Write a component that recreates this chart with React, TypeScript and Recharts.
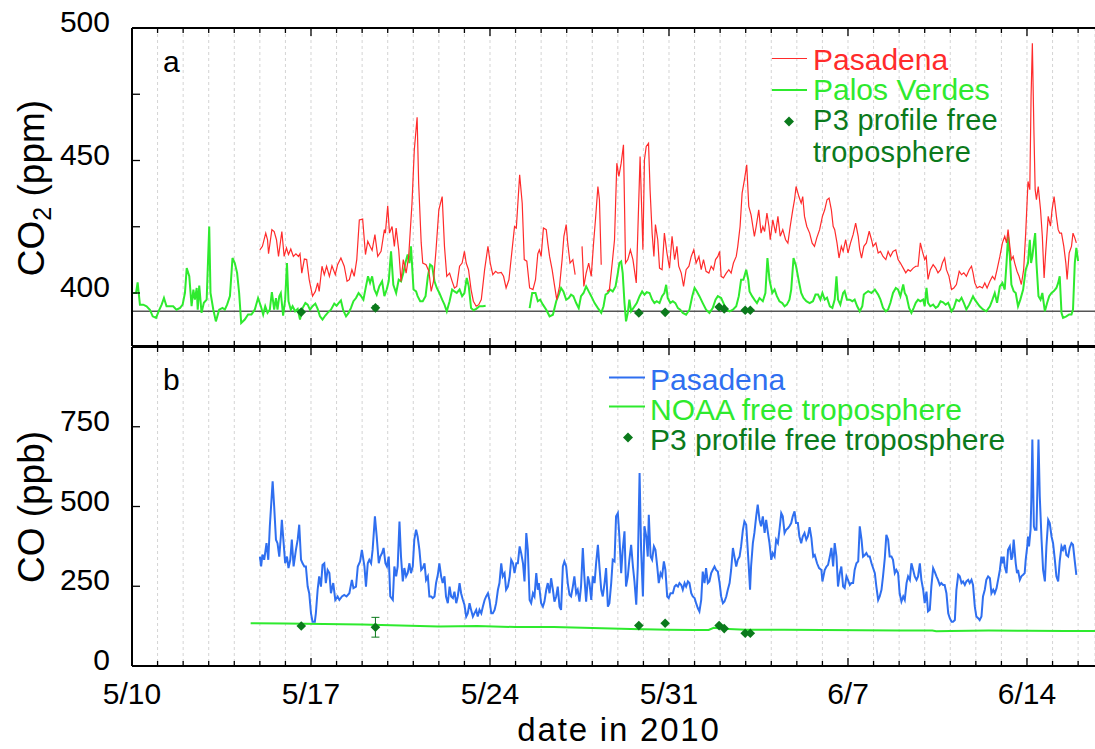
import {
  CartesianGrid,
  ComposedChart,
  ErrorBar,
  Line,
  ReferenceLine,
  Scatter,
  XAxis,
  YAxis,
} from "recharts";

const FONT = "'Liberation Sans', Arial, Helvetica, sans-serif";
const RED = "#ff2b2b";
const GREEN = "#2eea2e";
const BLUE = "#2f6ff0";
const DARK = "#0b7a1c";

// x = days since 5/10 00:00 (2010)
const DAY_MAX = 37.66;
const dayTicks = [
  0, 1, 2, 3, 4, 5, 6, 7, 8, 9, 10, 11, 12, 13, 14, 15, 16, 17, 18, 19, 20, 21, 22, 23, 24, 25, 26, 27, 28,
  29, 30, 31, 32, 33, 34, 35, 36, 37,
];
const majorDays = [0, 7, 14, 21, 28, 35];
const dateLabels = ["5/10", "5/17", "5/24", "5/31", "6/7", "6/14"];

const co2Ticks = [400, 425, 450, 475, 500];
const co2Labels = [400, 450, 500];
const coTicks = [0, 250, 500, 750, 1000];
const coLabels = [0, 250, 500, 750];

// panel a: CO2 (ppm)
const co2Pasadena: [number, number | null][] = [
  [5.0, 416.3], [5.1, 417.6], [5.23, 422.6], [5.3, 420.1], [5.34, 414.8], [5.47, 423.9], [5.56, 423.2],
  [5.65, 420.1], [5.73, 413.8], [5.86, 423.2], [5.95, 413.8], [6.04, 417], [6.12, 414.5], [6.21, 416.6],
  [6.31, 413.8], [6.41, 414.8], [6.51, 413.8], [6.57, 414.8], [6.64, 407.5], [6.74, 412.8], [6.83, 412.6],
  [6.93, 405], [7.06, 398.8], [7.17, 400.6], [7.26, 403.8], [7.32, 400.6], [7.43, 410.1], [7.52, 406.9],
  [7.61, 410.1], [7.72, 406.3], [7.82, 410.3], [7.95, 406.9], [8.04, 410.7], [8.17, 413.2], [8.3, 410.1],
  [8.41, 404.4], [8.5, 405], [8.6, 408.8], [8.69, 406.3], [8.79, 412.6], [8.89, 427.6], [9.02, 427.9],
  [9.13, 414.5], [9.22, 419.5], [9.31, 417.6], [9.39, 416.1], [9.5, 422], [9.61, 413.8], [9.74, 415.7],
  [9.87, 423.9], [9.91, 422.6], [10.0, 432.9], [10.07, 422.6], [10.17, 425.1], [10.26, 417.6], [10.33, 424.5],
  [10.43, 416.3], [10.52, 404.4], [10.61, 412.6], [10.72, 407.5], [10.82, 413.8], [10.95, 433.9], [11.04, 454],
  [11.15, 466.3], [11.21, 441.5], [11.31, 418.9], [11.37, 411.3], [11.5, 410.7], [11.61, 408.2], [11.7, 400.6],
  [11.79, 404.4], [11.89, 416.3], [12.0, 431.4], [12.13, 436.4], [12.22, 417.6], [12.31, 406.3], [12.42, 407.5],
  [12.52, 404.4], [12.61, 401.9], [12.7, 402.5], [12.81, 410.1], [12.91, 411.3], [13.0, 415.7], [13.07, 411.3],
  [13.16, 408.8], [13.26, 401.3], [13.35, 396.9], [13.46, 395], [13.56, 395.6], [13.66, 397.5], [13.79, 408.8],
  [13.92, 417.6], [14.01, 411.3], [14.11, 406.9], [14.22, 408.2], [14.31, 407.5], [14.44, 407.8], [14.53, 406.3],
  [14.63, 401.9], [14.74, 405], [14.83, 413.2], [14.96, 425.1], [15.03, 424.5], [15.16, 444.6], [15.26, 433.9],
  [15.34, 412.6], [15.44, 412], [15.55, 401.9], [15.68, 401.3], [15.78, 405], [15.87, 414.8], [15.93, 416.3],
  [16.0, 413.8], [16.09, 424.5], [16.2, 423.9], [16.26, 418.8], [16.33, 413.8], [16.43, 408.8], [16.52, 403.1],
  [16.61, 397.5], [16.72, 402.5], [16.82, 412.6], [16.89, 421.4], [16.98, 425.8], [17.04, 418.8], [17.13, 411.3],
  [17.24, 412.6], [17.33, 406.9], [17.45, null], [17.6, 417.6], [17.67, 402.5], [17.76, 407.5], [17.86, 411.3],
  [17.96, 406.3], [18.05, 418.8], [18.13, 428.3], [18.22, 440.2], [18.28, 435.2], [18.35, 410.7], [18.46, null],
  [18.57, 400.6], [18.67, 401.3], [18.78, 411.3], [18.87, 420.1], [18.96, 449], [19.04, 444], [19.13, 449],
  [19.22, 455.9], [19.3, 411.3], [19.39, 412.6], [19.49, 416.3], [19.59, 412.6], [19.72, 403.8], [19.78, 422.6],
  [19.87, 451.5], [19.98, 416.3], [20.04, 450.3], [20.11, 455.3], [20.2, 456.5], [20.26, 439], [20.34, 422.6],
  [20.41, 413.8], [20.47, 425.8], [20.56, 420.1], [20.63, 409.4], [20.73, 408.8], [20.82, 422.6], [20.92, 415.1],
  [21.02, 409.4], [21.12, 421.4], [21.22, 412.6], [21.31, 417.6], [21.38, 410.1], [21.48, 407.5], [21.57, 402.5],
  [21.67, 408.8], [21.78, 410.1], [21.87, 413.8], [21.97, 416.3], [22.06, 411.3], [22.17, 413.8], [22.26, 408.8],
  [22.35, 412.6], [22.45, 408.2], [22.56, 407.5], [22.65, 410.1], [22.74, 408.8], [22.82, 412.6], [22.91, 413.8],
  [22.98, 415.7], [23.04, 406.3], [23.13, 405.7], [23.24, 407.5], [23.34, 408.8], [23.43, 407.5], [23.52, 411.3],
  [23.63, 413.8], [23.69, 417.6], [23.78, 425.1], [23.86, 437.7], [23.95, 442.7], [24.04, 448.4], [24.12, 432.7],
  [24.21, 429.5], [24.28, 425.1], [24.34, 421.4], [24.41, 425.1], [24.51, 431.4], [24.6, 422.6], [24.67, 425.1],
  [24.74, 423.2], [24.83, 430.2], [24.91, 425.1], [24.96, 420.1], [25.06, 427.6], [25.17, 422.6], [25.26, 428.9],
  [25.35, 421.4], [25.45, 423.9], [25.56, 420.1], [25.65, 418.8], [25.74, 425.1], [25.84, 431.4], [25.91, 435.2],
  [25.97, 440.2], [26.08, 436.4], [26.17, 433.9], [26.23, 436.4], [26.3, 428.9], [26.39, 425.1], [26.5, 422.6],
  [26.6, 418.8], [26.69, 417.6], [26.78, 420.8], [26.89, 423.9], [27.0, 428.9], [27.09, 431.4], [27.18, 435.2],
  [27.26, 435.8], [27.35, 431.4], [27.42, 425.2], [27.48, 423.9], [27.57, 418.9], [27.65, 413.2], [27.74, 417.6],
  [27.81, 415.7], [27.91, 420.1], [28.0, 415.1], [28.1, 418.9], [28.2, 422], [28.3, 426.4], [28.4, 421.4],
  [28.46, 416.3], [28.53, 413.2], [28.62, 417.6], [28.72, 418.9], [28.83, 423.3], [28.92, 420.1], [28.98, 417.6],
  [29.09, 418.9], [29.18, 415.1], [29.27, 415.7], [29.37, 413.8], [29.48, 412.6], [29.57, 415.7], [29.66, 413.8],
  [29.76, 415.7], [29.87, 416.3], [29.96, 412.6], [30.05, 411.3], [30.16, 409.4], [30.26, 407.6], [30.35, 408.8],
  [30.44, 408.2], [30.55, 409.4], [30.65, 410.1], [30.74, 410.1], [30.83, 418.9], [30.91, 415.7], [31.0, 412.6],
  [31.06, 413.8], [31.13, 405.1], [31.22, 408.8], [31.33, 410.7], [31.43, 409.4], [31.52, 407.6], [31.62, 408.8],
  [31.69, 411.3], [31.78, 413.2], [31.85, 408.8], [31.95, 406.3], [32.05, 401.3], [32.14, 401.9], [32.24, 403.2],
  [32.35, 408.2], [32.44, 406.9], [32.53, 407.6], [32.63, 406.3], [32.74, 408.8], [32.83, 410.1], [32.89, 407.6],
  [32.96, 403.8], [33.05, 401.9], [33.15, 402.5], [33.26, 401.9], [33.35, 403.8], [33.44, 401.9], [33.55, 404.4],
  [33.65, 406.3], [33.74, 405.1], [33.83, 408.8], [33.94, 413.8], [34.04, 418.9], [34.13, 421.4], [34.2, 418.9],
  [34.26, 423.9], [34.33, 417.6], [34.39, 412.6], [34.46, 413.8], [34.52, 411.3], [34.61, 408.2], [34.69, 406.3],
  [34.78, 403.2], [34.87, 408.8], [34.95, 422.6], [35.04, 442.1], [35.11, 439], [35.16, 474.1], [35.21, 494.2],
  [35.27, 461.6], [35.32, 439], [35.37, 435.2], [35.44, 440.2], [35.53, 431.4], [35.6, 421.4], [35.67, 405.7],
  [35.73, 415.1], [35.83, 428.9], [35.92, 425.2], [35.98, 431.4], [36.06, 436.4], [36.15, 428.9], [36.22, 423.9],
  [36.28, 422.6], [36.35, 422.6], [36.44, 417.6], [36.52, 411.3], [36.57, 405.1], [36.65, 415.1], [36.74, 417.6],
  [36.8, 422.6], [36.87, 420.8], [36.93, 418.9],
];

const co2PalosVerdes: [number, number | null][] = [
  [0.05, 400], [0.16, 400], [0.22, 404], [0.31, 395.6], [0.44, 395.6], [0.57, 395], [0.7, 393.7], [0.81, 391.2],
  [0.94, 390.6], [1.07, 393.7], [1.16, 395.6], [1.25, 398.1], [1.35, 395], [1.48, 395], [1.61, 395], [1.74, 393.7],
  [1.88, 394.4], [1.98, 395.6], [2.07, 400], [2.14, 409.4], [2.24, 406.3], [2.33, 395], [2.4, 401.3], [2.46, 397.5],
  [2.53, 401.9], [2.57, 393.7], [2.63, 402.8], [2.72, 392.5], [2.81, 396.3], [2.92, 397.5], [3.02, 425.1],
  [3.07, 400], [3.18, 393.7], [3.28, 389.3], [3.41, 393.7], [3.54, 394.4], [3.63, 393.7], [3.72, 395.6],
  [3.83, 398.8], [3.93, 413.2], [4.02, 411.3], [4.11, 407.6], [4.19, 400], [4.27, 388.7], [4.41, 390],
  [4.54, 391.9], [4.67, 391.9], [4.8, 393.7], [4.93, 398.1], [5.04, 395], [5.13, 391.9], [5.21, 395], [5.3, 392.5],
  [5.39, 393.7], [5.47, 400.3], [5.56, 393.7], [5.63, 398.1], [5.69, 393.7], [5.76, 398.8], [5.82, 400],
  [5.91, 391.5], [5.99, 397.5], [6.06, 411.3], [6.12, 396.9], [6.21, 393.7], [6.28, 395], [6.38, 393.1], [6.48, 394],
  [6.57, 390], [6.67, 394.3], [6.78, 396.2], [6.87, 395.6], [6.96, 393.7], [7.06, 395], [7.17, 396], [7.26, 394],
  [7.35, 391.2], [7.45, 390], [7.56, 391.5], [7.65, 392.5], [7.78, 393.7], [7.91, 396], [8.0, 395.2], [8.08, 396.2],
  [8.17, 397.2], [8.26, 393.5], [8.37, 391.2], [8.47, 392.5], [8.56, 394.3], [8.66, 396.9], [8.76, 398.1],
  [8.86, 400], [8.96, 398.8], [9.05, 397.5], [9.15, 402.5], [9.23, 406.3], [9.31, 403.8], [9.39, 406.3],
  [9.48, 401.3], [9.57, 399.4], [9.67, 402.5], [9.78, 404.4], [9.87, 398.8], [9.96, 401.3], [10.04, 404.4],
  [10.13, 415.7], [10.22, 403.1], [10.33, 400], [10.43, 405], [10.52, 404.4], [10.61, 407.5], [10.69, 411.3],
  [10.78, 414.5], [10.85, 411.3], [10.91, 417.6], [11.01, 401.3], [11.11, 400.6], [11.17, 398.8], [11.27, 396.9],
  [11.37, 396.9], [11.48, 398.8], [11.57, 406.3], [11.66, 410.7], [11.74, 410.1], [11.83, 404.4], [11.92, 401.9],
  [12.02, 400], [12.13, 397.5], [12.22, 395.6], [12.31, 393.1], [12.42, 396.9], [12.52, 401.3], [12.61, 400.6],
  [12.7, 400], [12.81, 401.3], [12.91, 398.8], [13.0, 400], [13.09, 405.7], [13.17, 402.5], [13.26, 394.3],
  [13.36, 393.5], [13.46, 394], [13.59, 395], [13.72, 395], [13.83, 395.2], [14.7, null], [15.55, 394.3],
  [15.65, 400], [15.78, 400], [15.87, 396.9], [15.96, 397.5], [16.07, 395.6], [16.2, 393.7], [16.33, 391.2],
  [16.46, 391.8], [16.59, 396.9], [16.69, 399.4], [16.78, 401.9], [16.87, 400.6], [16.98, 397.5], [17.08, 398.1],
  [17.17, 399.4], [17.26, 398.8], [17.37, 396.2], [17.47, 394.3], [17.56, 398.8], [17.66, 400], [17.76, 402.5],
  [17.86, 400.6], [17.96, 398.8], [18.09, 396.2], [18.22, 394.3], [18.35, 392.5], [18.44, 395], [18.52, 399.4],
  [18.61, 400], [18.7, 401.3], [18.8, 400.6], [18.91, 402.5], [19.0, 407.5], [19.06, 411.3], [19.13, 411.9],
  [19.19, 407.5], [19.26, 396.2], [19.32, 389.3], [19.39, 392.5], [19.45, 397.5], [19.52, 393.1], [19.74, 396.2],
  [19.85, 398.8], [19.95, 400.6], [20.04, 399.4], [20.13, 400.3], [20.24, 400], [20.34, 397.5], [20.43, 396.2],
  [20.52, 396.9], [20.63, 396.2], [20.73, 398.8], [20.82, 400], [20.89, 403.1], [20.95, 398.1], [21.05, 396.2],
  [21.15, 396.9], [21.25, 396.2], [21.35, 394.3], [21.44, 393.7], [21.54, 392.5], [21.67, 391.8], [21.8, 393.7],
  [21.91, 398.8], [22.0, 401.9], [22.09, 400.6], [22.19, 398.8], [22.32, 396.2], [22.45, 393.7], [22.58, 392.5],
  [22.71, 394.3], [22.82, 397.5], [22.91, 398.8], [23.04, 398.1], [23.13, 396.2], [23.24, 393.7], [23.37, 393.1],
  [23.5, 393.7], [23.63, 395], [23.73, 398.8], [23.82, 405], [23.91, 405], [24.02, 408.8], [24.1, 405],
  [24.15, 400.6], [24.25, 398.8], [24.34, 397.5], [24.44, 396.2], [24.54, 398.1], [24.67, 396.9], [24.77, 400],
  [24.85, 413.2], [24.93, 405], [25.04, 400], [25.13, 401.3], [25.22, 398.8], [25.32, 396.9], [25.43, 396.2],
  [25.52, 395], [25.61, 395.6], [25.71, 397.5], [25.78, 401.3], [25.87, 413.2], [25.97, 410.1], [26.08, 404.4],
  [26.17, 400], [26.26, 398.1], [26.37, 396.9], [26.5, 396.2], [26.63, 396.9], [26.73, 399.4], [26.83, 399.4],
  [26.92, 397.5], [27.0, 400], [27.09, 397.5], [27.18, 398.2], [27.29, 395], [27.39, 394.4], [27.48, 397.5],
  [27.55, 406.3], [27.61, 397.5], [27.7, 395.6], [27.81, 400], [27.87, 400.7], [27.96, 397.5], [28.07, 397.5],
  [28.17, 396.9], [28.26, 397.5], [28.36, 395], [28.46, 393.1], [28.56, 395], [28.62, 399.4], [28.69, 400],
  [28.79, 400.7], [28.92, 400], [29.05, 401.3], [29.18, 399.4], [29.27, 397.5], [29.37, 394.4], [29.48, 393.1],
  [29.57, 393.8], [29.66, 396.3], [29.76, 400], [29.87, 401.9], [29.96, 401.3], [30.05, 398.8], [30.16, 403.2],
  [30.22, 400], [30.29, 398.8], [30.39, 394.4], [30.48, 392.5], [30.57, 394.4], [30.65, 396.3], [30.74, 397.5],
  [30.83, 396.9], [30.94, 397.5], [31.0, 395], [31.07, 401.9], [31.13, 396.3], [31.22, 395], [31.33, 395.6],
  [31.43, 394.4], [31.52, 395], [31.62, 396.9], [31.72, 396.5], [31.82, 395.6], [31.92, 396.3], [32.05, 393.1],
  [32.14, 394.4], [32.24, 397.5], [32.35, 396.9], [32.44, 398.2], [32.53, 396.3], [32.63, 393.8], [32.74, 395.6],
  [32.83, 397.5], [32.89, 398.8], [32.96, 397.5], [33.05, 396.3], [33.15, 395], [33.28, 393.8], [33.41, 393.1],
  [33.55, 395], [33.65, 397.5], [33.74, 400], [33.83, 396.3], [33.94, 402.5], [34.04, 403.8], [34.13, 401.3],
  [34.2, 411.3], [34.26, 421.4], [34.33, 413.8], [34.39, 403.2], [34.48, 400.7], [34.56, 400], [34.65, 395],
  [34.74, 397.5], [34.85, 401.3], [34.95, 408.8], [35.04, 411.3], [35.11, 420.1], [35.16, 411.3], [35.21, 413.8],
  [35.27, 418.9], [35.32, 422.6], [35.37, 411.3], [35.45, 398.8], [35.53, 397.5], [35.6, 400], [35.7, 393.1],
  [35.79, 396.3], [35.87, 398.8], [35.96, 400], [36.05, 400.7], [36.15, 401.9], [36.22, 403.8], [36.28, 406.3],
  [36.35, 392.5], [36.41, 390.6], [36.54, 391.2], [36.65, 391.9], [36.74, 391.9], [36.8, 393.8], [36.87, 411.3],
  [36.93, 417], [37.0, 412],
];

const co2Background = 393.1;

// P3 aircraft profiles (same flights in both panels)
const p3Days = [6.62, 9.52, 19.82, 20.85, 22.96, 23.16, 23.98, 24.18];
const p3Co2 = [392.8, 394.4, 392.5, 392.7, 394.7, 394.0, 393.5, 393.5];
const p3Co2Err = [0, 0.8, 0, 0, 0, 0, 0, 0];
const p3Co = [125.6, 121.5, 126.6, 134, 126.6, 117.2, 102.6, 102.6];
const p3CoErr = [0, 31, 0, 0, 0, 0, 0, 0];

// panel b: CO (ppb)
const coPasadena: [number, number][] = [
  [5.0, 343], [5.05, 312], [5.1, 349], [5.17, 333], [5.26, 385], [5.33, 333], [5.39, 438], [5.5, 579], [5.56, 500],
  [5.63, 396], [5.69, 385], [5.76, 343], [5.82, 406], [5.86, 458], [5.93, 385], [5.99, 322], [6.06, 343],
  [6.12, 307], [6.19, 333], [6.25, 396], [6.32, 312], [6.41, 364], [6.48, 396], [6.54, 443], [6.61, 333],
  [6.67, 322], [6.74, 312], [6.8, 312], [6.87, 249], [6.93, 228], [7.0, 165], [7.06, 139], [7.15, 139], [7.19, 165],
  [7.26, 239], [7.32, 281], [7.39, 249], [7.45, 317], [7.52, 322], [7.58, 260], [7.65, 301], [7.72, 291],
  [7.78, 228], [7.87, 260], [7.95, 207], [8.04, 218], [8.11, 207], [8.21, 218], [8.3, 223], [8.39, 218], [8.5, 228],
  [8.6, 270], [8.66, 244], [8.76, 249], [8.83, 312], [8.92, 328], [8.99, 364], [9.09, 312], [9.15, 249], [9.22, 322],
  [9.28, 333], [9.35, 322], [9.41, 364], [9.5, 469], [9.57, 406], [9.65, 322], [9.71, 343], [9.78, 354],
  [9.84, 370], [9.91, 322], [9.97, 312], [10.04, 343], [10.1, 218], [10.2, 207], [10.26, 312], [10.33, 281],
  [10.39, 312], [10.46, 453], [10.52, 343], [10.59, 265], [10.65, 307], [10.72, 281], [10.78, 291], [10.85, 322],
  [10.91, 291], [10.98, 312], [11.04, 396], [11.11, 427], [11.17, 406], [11.24, 364], [11.31, 301], [11.37, 307],
  [11.44, 322], [11.5, 270], [11.57, 281], [11.63, 218], [11.7, 218], [11.76, 213], [11.83, 218], [11.89, 260],
  [11.96, 286], [12.02, 322], [12.09, 281], [12.15, 260], [12.22, 281], [12.28, 218], [12.35, 197], [12.42, 249],
  [12.48, 218], [12.55, 213], [12.61, 233], [12.68, 197], [12.74, 218], [12.81, 260], [12.87, 228], [12.94, 207],
  [13.0, 192], [13.07, 155], [13.13, 165], [13.2, 197], [13.26, 176], [13.33, 155], [13.39, 165], [13.46, 176],
  [13.52, 155], [13.59, 176], [13.66, 165], [13.72, 186], [13.79, 207], [13.85, 218], [13.92, 228], [13.98, 207],
  [14.05, 165], [14.11, 165], [14.18, 176], [14.24, 197], [14.31, 239], [14.37, 260], [14.44, 322], [14.5, 281],
  [14.57, 291], [14.63, 239], [14.7, 249], [14.77, 281], [14.83, 333], [14.9, 322], [14.96, 291], [15.03, 322],
  [15.09, 322], [15.16, 375], [15.22, 354], [15.29, 322], [15.35, 265], [15.42, 417], [15.48, 364], [15.55, 207],
  [15.61, 197], [15.68, 228], [15.74, 218], [15.81, 291], [15.87, 239], [15.91, 260], [16.0, 197], [16.07, 186],
  [16.13, 202], [16.2, 239], [16.26, 260], [16.33, 228], [16.39, 275], [16.46, 239], [16.52, 202], [16.59, 218],
  [16.65, 249], [16.72, 186], [16.78, 176], [16.85, 312], [16.91, 328], [16.98, 312], [17.04, 260], [17.11, 223],
  [17.17, 218], [17.24, 249], [17.3, 281], [17.37, 228], [17.43, 239], [17.5, 202], [17.56, 249], [17.63, 370],
  [17.69, 281], [17.76, 202], [17.83, 281], [17.89, 260], [17.96, 207], [18.02, 281], [18.09, 260], [18.15, 322],
  [18.22, 380], [18.28, 312], [18.35, 239], [18.41, 218], [18.48, 260], [18.54, 307], [18.61, 186], [18.67, 197],
  [18.74, 260], [18.8, 333], [18.87, 328], [18.93, 469], [19.0, 479], [19.06, 406], [19.13, 291], [19.19, 364],
  [19.26, 422], [19.32, 249], [19.39, 281], [19.45, 333], [19.52, 380], [19.59, 312], [19.65, 265], [19.72, 192],
  [19.78, 312], [19.85, 605], [19.91, 364], [19.98, 218], [20.04, 438], [20.11, 406], [20.17, 343], [20.21, 474],
  [20.28, 343], [20.34, 333], [20.41, 375], [20.47, 364], [20.54, 312], [20.6, 260], [20.67, 291], [20.73, 281],
  [20.8, 328], [20.86, 301], [20.93, 218], [20.99, 213], [21.06, 228], [21.15, 228], [21.22, 249], [21.28, 254],
  [21.35, 249], [21.41, 260], [21.48, 254], [21.54, 239], [21.61, 260], [21.67, 249], [21.74, 265], [21.8, 260],
  [21.87, 228], [21.93, 218], [22.0, 213], [22.06, 197], [22.13, 181], [22.19, 171], [22.26, 207], [22.32, 296],
  [22.39, 260], [22.45, 307], [22.52, 260], [22.58, 265], [22.65, 291], [22.71, 301], [22.78, 312], [22.84, 301],
  [22.91, 296], [22.98, 260], [23.04, 218], [23.11, 197], [23.17, 202], [23.24, 218], [23.3, 239], [23.37, 260],
  [23.43, 301], [23.5, 370], [23.56, 343], [23.63, 312], [23.69, 333], [23.76, 343], [23.82, 375], [23.89, 427],
  [23.95, 453], [24.02, 443], [24.08, 364], [24.12, 312], [24.17, 239], [24.21, 312], [24.28, 385], [24.34, 417],
  [24.41, 469], [24.47, 506], [24.54, 458], [24.6, 438], [24.67, 469], [24.74, 417], [24.8, 458], [24.87, 417],
  [24.93, 385], [25.0, 333], [25.06, 354], [25.13, 343], [25.19, 396], [25.26, 385], [25.32, 427], [25.39, 479],
  [25.45, 469], [25.52, 417], [25.58, 427], [25.65, 432], [25.71, 438], [25.78, 448], [25.84, 469], [25.91, 485],
  [25.97, 448], [26.04, 448], [26.1, 406], [26.17, 385], [26.23, 406], [26.3, 417], [26.37, 396], [26.43, 406],
  [26.5, 435], [26.57, 401], [26.64, 343], [26.7, 348], [26.79, 322], [26.87, 307], [26.96, 301], [27.0, 265],
  [27.09, 301], [27.16, 312], [27.22, 317], [27.29, 343], [27.35, 370], [27.42, 312], [27.48, 385], [27.55, 343],
  [27.61, 249], [27.68, 291], [27.74, 312], [27.81, 249], [27.87, 244], [27.94, 281], [28.0, 270], [28.07, 254],
  [28.13, 260], [28.2, 260], [28.26, 301], [28.33, 322], [28.4, 328], [28.46, 438], [28.53, 396], [28.59, 343],
  [28.66, 348], [28.72, 354], [28.79, 343], [28.85, 343], [28.92, 322], [29.05, 291], [29.11, 249], [29.18, 207],
  [29.24, 218], [29.31, 239], [29.37, 281], [29.44, 338], [29.5, 411], [29.57, 396], [29.63, 343], [29.7, 343],
  [29.76, 333], [29.83, 291], [29.89, 301], [29.96, 291], [30.02, 228], [30.09, 202], [30.16, 218], [30.22, 207],
  [30.29, 260], [30.35, 281], [30.42, 270], [30.48, 322], [30.55, 301], [30.61, 281], [30.68, 270], [30.74, 281],
  [30.81, 322], [30.87, 270], [30.94, 239], [31.0, 197], [31.07, 233], [31.13, 171], [31.2, 176], [31.26, 249],
  [31.33, 307], [31.39, 296], [31.46, 281], [31.52, 270], [31.59, 254], [31.65, 260], [31.72, 254], [31.78, 254],
  [31.85, 228], [31.92, 165], [31.98, 150], [32.05, 139], [32.11, 139], [32.18, 144], [32.24, 239], [32.31, 286],
  [32.37, 281], [32.44, 260], [32.5, 265], [32.57, 254], [32.63, 265], [32.7, 270], [32.76, 260], [32.83, 270],
  [32.89, 254], [32.96, 186], [33.02, 155], [33.09, 150], [33.15, 144], [33.22, 155], [33.28, 218], [33.35, 239],
  [33.41, 270], [33.48, 281], [33.55, 275], [33.61, 228], [33.68, 239], [33.74, 228], [33.81, 244], [33.87, 270],
  [33.94, 301], [34.0, 343], [34.04, 322], [34.09, 343], [34.13, 312], [34.2, 291], [34.26, 364], [34.33, 375],
  [34.39, 333], [34.43, 343], [34.48, 396], [34.56, 322], [34.61, 291], [34.65, 301], [34.72, 270], [34.78, 281],
  [34.85, 286], [34.91, 291], [34.95, 333], [35.01, 375], [35.04, 406], [35.08, 375], [35.14, 427], [35.17, 521],
  [35.21, 710], [35.27, 438], [35.31, 427], [35.37, 427], [35.4, 532], [35.45, 710], [35.5, 532], [35.57, 396],
  [35.63, 301], [35.7, 265], [35.76, 375], [35.83, 458], [35.89, 448], [35.96, 406], [36.02, 385], [36.09, 333],
  [36.15, 281], [36.22, 265], [36.28, 328], [36.35, 375], [36.41, 364], [36.48, 380], [36.54, 348], [36.61, 343],
  [36.67, 370], [36.74, 385], [36.8, 380], [36.87, 328], [36.93, 286],
];

const coNoaa: [number, number][] = [
  [4.64, 134], [6, 133.5], [7.5, 132], [9, 130], [10.5, 127], [12, 124], [13.5, 125.5], [15, 122], [16.5, 122],
  [18, 119], [19.5, 116], [21, 114], [22, 112.5], [22.55, 113], [22.75, 120], [23.1, 117], [24, 114], [25.5, 114],
  [27, 113], [28.5, 112], [30, 111.5], [31.3, 111], [31.45, 109], [32, 109.5], [33.5, 111], [35, 110.5],
  [36.5, 110], [37.66, 110],
];

const toRows = (pts: [number, number | null][]) => pts.map(([t, v]) => ({ t, v }));
const p3Rows = (vals: number[], errs: number[]) =>
  p3Days.map((t, i) => ({ t, v: vals[i], err: errs[i] }));

function XTick(props: any) {
  const { x, y, payload, side, withLabels } = props;
  const k = majorDays.indexOf(payload.value);
  const len = k >= 0 ? 8 : 5;
  const dir = side === "top" ? 1 : -1;
  return (
    <g>
      <line x1={x} x2={x} y1={y} y2={y + dir * len} stroke="#000" strokeWidth={1.3} />
      {withLabels && k >= 0 && (
        <text x={x} y={y + 38} textAnchor="middle" fontSize={30} fontFamily={FONT} fill="#000">
          {dateLabels[k]}
        </text>
      )}
    </g>
  );
}

function YTick(props: any) {
  const { x, y, payload, labels } = props;
  const show = labels.includes(payload.value);
  return (
    <g>
      <line x1={x} x2={x + 8} y1={y} y2={y} stroke="#000" strokeWidth={1.3} />
      {show && (
        <text x={x - 22} y={y + 4} textAnchor="end" fontSize={30} fontFamily={FONT} fill="#000">
          {payload.value}
        </text>
      )}
    </g>
  );
}

const diamond = (cx: number, cy: number, r: number) =>
  `${cx},${cy - r} ${cx + r},${cy} ${cx},${cy + r} ${cx - r},${cy}`;

const P3Shape = (p: any) => <polygon points={diamond(p.cx, p.cy, 4.8)} fill={DARK} />;

const axisLine = { stroke: "#000", strokeWidth: 2 };

function xAxes(topH: number, bottomH: number, labels: boolean) {
  return [
    <XAxis
      key="xb"
      xAxisId="b"
      dataKey="t"
      type="number"
      scale="linear"
      domain={[0, DAY_MAX]}
      allowDataOverflow
      ticks={dayTicks}
      interval={0}
      height={bottomH}
      tickSize={0}
      tickMargin={0}
      tickLine={false}
      axisLine={axisLine}
      tick={<XTick side="bottom" withLabels={labels} />}
    />,
    <XAxis
      key="xt"
      xAxisId="t"
      orientation="top"
      dataKey="t"
      type="number"
      scale="linear"
      domain={[0, DAY_MAX]}
      allowDataOverflow
      ticks={dayTicks}
      interval={0}
      height={topH}
      tickSize={0}
      tickMargin={0}
      tickLine={false}
      axisLine={axisLine}
      tick={<XTick side="top" withLabels={false} />}
    />,
  ];
}

const txt = { fontFamily: FONT, fontSize: 30 } as const;

export default function App() {
  return (
    <div
      style={{
        position: "fixed",
        left: 0,
        top: 0,
        width: 1095,
        height: 749,
        background: "#fff",
        overflow: "hidden",
      }}
    >
      <div style={{ position: "absolute", left: 0, top: 0 }}>
        <ComposedChart width={1095} height={360} margin={{ top: 0, right: 0, bottom: 0, left: 0 }}>
          <CartesianGrid xAxisId="b" horizontal={false} stroke="#d4d4d4" strokeDasharray="3 3" />
          {xAxes(28, 14, false)}
          <YAxis
            type="number"
            domain={[380, 500]}
            allowDataOverflow
            ticks={co2Ticks}
            interval={0}
            width={132}
            tickSize={0}
            tickMargin={0}
            tickLine={false}
            axisLine={axisLine}
            tick={<YTick labels={co2Labels} />}
          />
          <ReferenceLine xAxisId="b" y={co2Background} stroke="#555" strokeWidth={1.5} />
          <Line
            xAxisId="b"
            data={toRows(co2PalosVerdes)}
            dataKey="v"
            stroke={GREEN}
            strokeWidth={2}
            dot={false}
            isAnimationActive={false}
          />
          <Line
            xAxisId="b"
            data={toRows(co2Pasadena)}
            dataKey="v"
            stroke={RED}
            strokeWidth={1.2}
            dot={false}
            isAnimationActive={false}
          />
          <Scatter
            xAxisId="b"
            data={p3Rows(p3Co2, p3Co2Err)}
            dataKey="v"
            fill={DARK}
            shape={P3Shape}
            isAnimationActive={false}
          >
            <ErrorBar dataKey="err" direction="y" width={3} stroke={DARK} strokeWidth={1} />
          </Scatter>
        </ComposedChart>
      </div>

      <div style={{ position: "absolute", left: 0, top: 340 }}>
        <ComposedChart width={1095} height={409} margin={{ top: 0, right: 0, bottom: 0, left: 0 }}>
          <CartesianGrid xAxisId="b" horizontal={false} stroke="#d4d4d4" strokeDasharray="3 3" />
          {xAxes(7, 83, true)}
          <YAxis
            type="number"
            domain={[0, 1000]}
            allowDataOverflow
            ticks={coTicks}
            interval={0}
            width={132}
            tickSize={0}
            tickMargin={0}
            tickLine={false}
            axisLine={axisLine}
            tick={<YTick labels={coLabels} />}
          />
          <Line
            xAxisId="b"
            data={toRows(coNoaa)}
            dataKey="v"
            stroke={GREEN}
            strokeWidth={2}
            dot={false}
            isAnimationActive={false}
          />
          <Line
            xAxisId="b"
            data={toRows(coPasadena)}
            dataKey="v"
            stroke={BLUE}
            strokeWidth={2}
            dot={false}
            isAnimationActive={false}
          />
          <Scatter
            xAxisId="b"
            data={p3Rows(p3Co, p3CoErr)}
            dataKey="v"
            fill={DARK}
            shape={P3Shape}
            isAnimationActive={false}
          >
            <ErrorBar dataKey="err" direction="y" width={4} stroke={DARK} strokeWidth={1} />
          </Scatter>
        </ComposedChart>
      </div>

      <svg
        width={1095}
        height={749}
        style={{ position: "absolute", left: 0, top: 0, pointerEvents: "none" }}
      >
        <text x={163} y={72} {...txt} fill="#000">a</text>
        <text x={163} y={390} {...txt} fill="#000">b</text>

        <line x1={772} x2={807} y1={58.5} y2={58.5} stroke={RED} strokeWidth={1.2} />
        <text x={813} y={69.5} {...txt} fill={RED}>Pasadena</text>
        <line x1={772} x2={807} y1={90} y2={90} stroke={GREEN} strokeWidth={2} />
        <text x={813} y={100} {...txt} fill={GREEN}>Palos Verdes</text>
        <polygon points={diamond(789, 121.5, 5)} fill={DARK} />
        <text x={813} y={129.5} fontFamily={FONT} fontSize={29} letterSpacing={0.3} fill={DARK}>
          P3 profile free
        </text>
        <text x={813} y={162} fontFamily={FONT} fontSize={29} letterSpacing={0.3} fill={DARK}>
          troposphere
        </text>

        <line x1={609} x2={645} y1={377.5} y2={377.5} stroke={BLUE} strokeWidth={2} />
        <text x={650} y={389.5} {...txt} fill={BLUE}>Pasadena</text>
        <line x1={609} x2={645} y1={406.5} y2={406.5} stroke={GREEN} strokeWidth={2} />
        <text x={650} y={420} {...txt} fill={GREEN}>NOAA free troposphere</text>
        <polygon points={diamond(628, 437.5, 5)} fill={DARK} />
        <text x={650} y={450} {...txt} fill={DARK}>P3 profile free troposphere</text>

        <text
          x={44}
          y={188}
          transform="rotate(-90, 44, 188)"
          textAnchor="middle"
          fontFamily={FONT}
          fontSize={37}
          fill="#000"
        >
          CO
          <tspan fontSize={25} dy={7}>2</tspan>
          <tspan dy={-7}> (ppm)</tspan>
        </text>
        <text
          x={44}
          y={507}
          transform="rotate(-90, 44, 507)"
          textAnchor="middle"
          fontFamily={FONT}
          fontSize={37}
          fill="#000"
        >
          CO (ppb)
        </text>
        <text
          x={619}
          y={741}
          textAnchor="middle"
          fontFamily={FONT}
          fontSize={33}
          letterSpacing={1.8}
          fill="#000"
        >
          date in 2010
        </text>
      </svg>
    </div>
  );
}
